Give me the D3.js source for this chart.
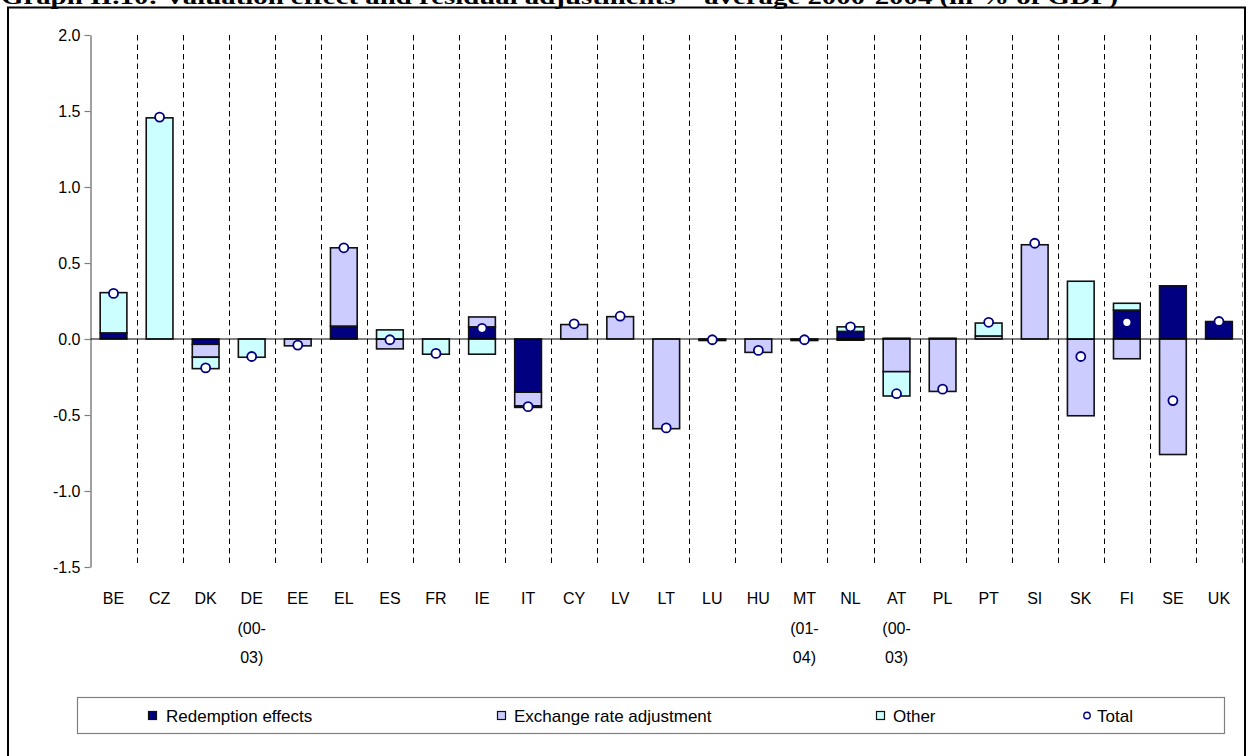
<!DOCTYPE html>
<html>
<head>
<meta charset="utf-8">
<script src="https://cdn.jsdelivr.net/npm/d3@7"></script>
<style>
  html, body { margin: 0; padding: 0; background: #fff; }
  svg { display: block; font-family: Arial, "Liberation Sans", sans-serif; }
</style>
</head>
<body>
<svg id="chart" width="1253" height="756"></svg>
<script>
// Country codes (multi-line labels use "\n")
const categories = ["BE","CZ","DK","DE\n(00-\n03)","EE","EL","ES","FR","IE","IT","CY","LV","LT","LU","HU",
  "MT\n(01-\n04)","NL","AT\n(00-\n03)","PL","PT","SI","SK","FI","SE","UK"];

// Components, % of GDP
const redemption = [0.04, 0, -0.035, 0, 0, 0.085, 0, 0, 0.08, -0.35, 0, 0, 0, -0.01, 0,
  -0.01, 0.05, 0.005, 0.005, 0, 0, 0, 0.19, 0.35, 0.115];
const exchange = [0, 0, -0.085, 0, -0.045, 0.515, -0.065, 0, 0.065, -0.09, 0.095, 0.147, -0.59, 0, -0.088,
  0, -0.008, -0.215, -0.345, 0.02, 0.62, -0.505, -0.13, -0.76, 0];
const other = [0.265, 1.455, -0.075, -0.12, 0, 0, 0.06, -0.10, -0.10, -0.01, 0, 0, 0, 0, 0,
  0, 0.03, -0.16, 0, 0.085, 0, 0.38, 0.045, 0, 0];
const total = [0.30, 1.46, -0.19, -0.115, -0.04, 0.60, -0.005, -0.095, 0.07, -0.445, 0.10, 0.15, -0.585, -0.005, -0.075,
  -0.005, 0.08, -0.36, -0.33, 0.11, 0.63, -0.115, 0.11, -0.405, 0.115];

const yTicks = [2.0, 1.5, 1.0, 0.5, 0.0, -0.5, -1.0, -1.5];
const yTickLabels = ["2.0", "1.5", "1.0", "0.5", "0.0", "-0.5", "-1.0", "-1.5"];
const seriesNames = ["Redemption effects", "Exchange rate adjustment", "Other", "Total"];

const keys = ["redemption", "exchange", "other"];
const colors = { redemption: "#000080", exchange: "#CCCCFF", other: "#CCFFFF" };

const rows = categories.map((c, i) => ({
  cat: c, redemption: redemption[i], exchange: exchange[i], other: other[i], total: total[i]
}));

const svg = d3.select("#chart");

// Title (runs off the top edge of the page)
svg.append("text")
  .attr("x", 1).attr("y", 4)
  .attr("textLength", 1117).attr("lengthAdjust", "spacingAndGlyphs")
  .style("font-family", "'Liberation Serif', 'Times New Roman', serif")
  .style("font-weight", "bold").style("font-size", "21px")
  .text("Graph II.10: Valuation effect and residual adjustments \u2013 average 2000-2004 (in % of GDP)");

// Outer frame
svg.append("rect")
  .attr("x", 8).attr("y", 7.5).attr("width", 1237).attr("height", 770)
  .attr("fill", "none").attr("stroke", "#000").attr("stroke-width", 2);

const plotLeft = 90.5, plotRight = 1242, plotTop = 35, plotBottom = 567;

const x = d3.scaleBand().domain(categories).range([plotLeft, plotRight]).padding(0);
const y = d3.scaleLinear().domain([-1.5, 2.0]).range([plotBottom, plotTop]);

// Dashed category separators
const sepG = svg.append("g");
categories.forEach((c, i) => {
  const sx = Math.round(x(c) + x.bandwidth()) + 0.5;
  sepG.append("line")
    .attr("x1", sx).attr("x2", sx).attr("y1", plotTop).attr("y2", plotBottom - 2)
    .attr("stroke", i === categories.length - 1 ? "#777" : "#000")
    .attr("stroke-width", 1)
    .attr("stroke-dasharray", "5.5,4");
});

// Y axis
const yAxis = d3.axisLeft(y).tickValues(yTicks)
  .tickFormat((d, i) => yTickLabels[i]).tickSize(6).tickSizeOuter(0);
const yg = svg.append("g").attr("transform", `translate(${plotLeft},0)`).call(yAxis);
yg.select(".domain").attr("stroke", "#808080").attr("stroke-width", 1.5);
yg.selectAll(".tick line").attr("stroke", "#808080").attr("stroke-width", 1.2);
yg.selectAll(".tick text")
  .attr("x", -10).attr("fill", "#000")
  .style("font-size", "16px").style("font-family", "Arial, 'Liberation Sans', sans-serif");

// Stacked bars (positives stacked upward, negatives downward)
const stacked = d3.stack().keys(keys).offset(d3.stackOffsetDiverging)(rows);
const barW = x.bandwidth() * 0.58;
const barOff = (x.bandwidth() - barW) / 2;

const barsG = svg.append("g");
stacked.forEach(layer => {
  barsG.append("g")
    .selectAll("rect")
    .data(layer.filter(d => d[1] !== d[0]))
    .join("rect")
    .attr("x", d => x(d.data.cat) + barOff)
    .attr("width", barW)
    .attr("y", d => y(Math.max(d[0], d[1])))
    .attr("height", d => Math.abs(y(d[0]) - y(d[1])))
    .attr("fill", colors[layer.key])
    .attr("stroke", "#111")
    .attr("stroke-width", 1.6);
});

// Zero line
svg.append("line")
  .attr("x1", plotLeft).attr("x2", plotRight)
  .attr("y1", y(0)).attr("y2", y(0))
  .attr("stroke", "#000").attr("stroke-width", 1.2);

// Total markers
svg.append("g")
  .selectAll("circle")
  .data(rows)
  .join("circle")
  .attr("cx", d => x(d.cat) + x.bandwidth() / 2)
  .attr("cy", d => y(d.total))
  .attr("r", 4.5)
  .attr("fill", "#fff")
  .attr("stroke", "#000080")
  .attr("stroke-width", 1.8);

// Category labels
const labG = svg.append("g");
categories.forEach(c => {
  const t = labG.append("text")
    .attr("x", x(c) + x.bandwidth() / 2)
    .attr("y", 604)
    .attr("text-anchor", "middle")
    .style("font-size", "16px");
  c.split("\n").forEach((line, j) => {
    t.append("tspan")
      .attr("x", x(c) + x.bandwidth() / 2)
      .attr("y", 604 + j * 29.5)
      .text(line);
  });
});

// Legend
const lg = svg.append("g");
lg.append("rect")
  .attr("x", 77.5).attr("y", 697.5).attr("width", 1147).attr("height", 36)
  .attr("fill", "#fff").attr("stroke", "#808080").attr("stroke-width", 1.2);

const legendItems = [
  { name: seriesNames[0], type: "rect", color: colors.redemption, sx: 148, tx: 166 },
  { name: seriesNames[1], type: "rect", color: colors.exchange, sx: 497, tx: 514 },
  { name: seriesNames[2], type: "rect", color: colors.other, sx: 876, tx: 893 },
  { name: seriesNames[3], type: "circle", color: "#fff", sx: 1083, tx: 1097 }
];
legendItems.forEach(it => {
  if (it.type === "rect") {
    lg.append("rect")
      .attr("x", it.sx + 0.5).attr("y", 711.5).attr("width", 8).attr("height", 8)
      .attr("fill", it.color).attr("stroke", "#111").attr("stroke-width", 1.2);
  } else {
    lg.append("circle")
      .attr("cx", it.sx + 4).attr("cy", 715.5).attr("r", 3.2)
      .attr("fill", "#fff").attr("stroke", "#000080").attr("stroke-width", 1.4);
  }
  lg.append("text")
    .attr("x", it.tx).attr("y", 721.5)
    .style("font-size", "17px")
    .text(it.name);
});
</script>
</body>
</html>
